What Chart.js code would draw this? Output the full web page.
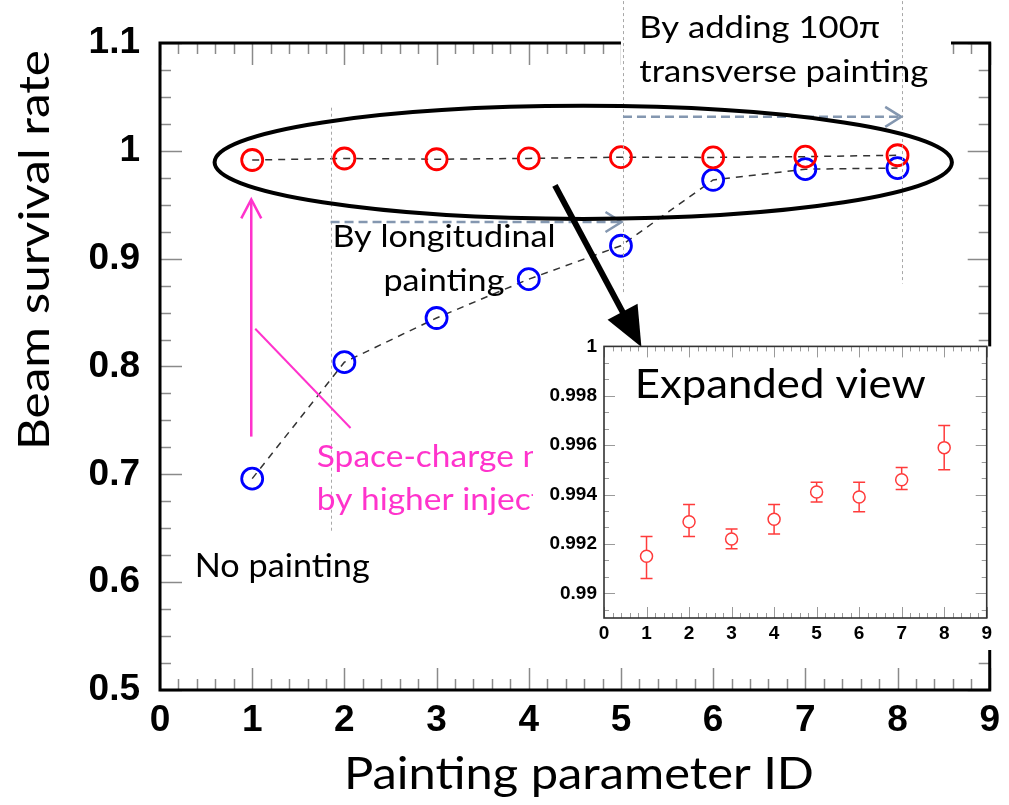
<!DOCTYPE html>
<html>
<head>
<meta charset="utf-8">
<script src="https://cdn.jsdelivr.net/npm/chart.js@4.4.1/dist/chart.umd.min.js"></script>
<style>
  html, body { margin: 0; padding: 0; background: #fff; }
  #wrap { position: relative; width: 1009px; height: 805px; overflow: hidden; background: #fff; }
  #main { position: absolute; left: 0; top: 0; }
  #inset { position: absolute; left: 533px; top: 328px; }
</style>
</head>
<body>
<div id="wrap">
  <canvas id="main" width="1009" height="805"></canvas>
  <canvas id="inset" width="463" height="322"></canvas>
</div>
<script>
// Painting parameter IDs and measured beam survival rates
const paintingIds = [1, 2, 3, 4, 5, 6, 7, 8];
const survivalLongitudinal = [0.696, 0.804, 0.845, 0.881, 0.912, 0.973, 0.983, 0.984];
const survivalTransverse = [0.9915, 0.9929, 0.9922, 0.9930, 0.9941, 0.9939, 0.9946, 0.9959];
const transverseErrHigh = [0.9923, 0.9936, 0.9926, 0.9936, 0.9945, 0.9945, 0.9951, 0.9968];
const transverseErrLow = [0.9906, 0.9923, 0.9918, 0.9924, 0.9937, 0.9933, 0.9942, 0.9950];

// Axis tick values
const mainXTicks = [0, 1, 2, 3, 4, 5, 6, 7, 8, 9];
const mainYTicks = [0.5, 0.6, 0.7, 0.8, 0.9, 1.0, 1.1];
const insetXTicks = [0, 1, 2, 3, 4, 5, 6, 7, 8, 9];
const insetYTicks = [0.99, 0.992, 0.994, 0.996, 0.998, 1.0];

const TEXT_FONT = 'Lato, "Open Sans", sans-serif';
const TICK_FONT = '"Liberation Sans", Arial, sans-serif';

// horizontal squeeze so a line of text at a given size spans the wanted width
const measureCtx = document.createElement('canvas').getContext('2d');
function squeeze(text, size, width) {
  measureCtx.font = `${size}px ${TEXT_FONT}`;
  return width / measureCtx.measureText(text).width;
}
function drawText(ctx, text, x, y, size, sx, align, color) {
  ctx.save();
  ctx.font = `${size}px ${TEXT_FONT}`;
  ctx.fillStyle = color || '#000';
  ctx.textAlign = align;
  ctx.textBaseline = 'middle';
  ctx.translate(x, y);
  ctx.scale(sx, 1);
  ctx.fillText(text, 0, 0);
  ctx.restore();
}
const xTitleSx = squeeze('Painting parameter ID', 45, 470);
const yTitleSx = squeeze('Beam survival rate', 43, 400);
const longSx = squeeze('By longitudinal', 31, 223);
const transSx = squeeze('transverse painting', 31, 289);
const noPaintSx = squeeze('No painting', 32, 175);
const spaceSx = squeeze('Space-charge', 31, 197);
const expandedSx = squeeze('Expanded view', 40, 291);

// inward tick marks on all four sides, with minor subdivisions
function tickValues(ticks, div, min, max) {
  const step = (ticks[1] - ticks[0]) / div;
  let v = ticks[0];
  while (v - step >= min - 1e-9) v -= step;
  const out = [];
  for (; v <= max + 1e-9; v += step) {
    const major = ticks.some(t => Math.abs(t - v) < step * 0.01);
    out.push({ v, major });
  }
  return out;
}
function drawFrame(chart, o) {
  const { ctx, chartArea: a, scales: { x, y } } = chart;
  ctx.save();
  ctx.strokeStyle = o.tickColor;
  ctx.lineWidth = o.tickWidth;
  ctx.beginPath();
  tickValues(o.xTicks, o.xDiv, x.min, x.max).forEach(t => {
    const p = Math.round(x.getPixelForValue(t.v)) + 0.5;
    const len = t.major ? o.major : o.minor;
    ctx.moveTo(p, a.bottom); ctx.lineTo(p, a.bottom - len);
    ctx.moveTo(p, a.top); ctx.lineTo(p, a.top + len);
  });
  tickValues(o.yTicks, o.yDiv, y.min, y.max).forEach(t => {
    const p = Math.round(y.getPixelForValue(t.v)) + 0.5;
    const len = t.major ? o.major : o.minor;
    ctx.moveTo(a.left, p); ctx.lineTo(a.left + len, p);
    ctx.moveTo(a.right, p); ctx.lineTo(a.right - len, p);
  });
  ctx.stroke();
  ctx.strokeStyle = o.frameColor;
  ctx.lineWidth = o.frameWidth;
  ctx.strokeRect(a.left, a.top, a.right - a.left, a.bottom - a.top);
  ctx.restore();
}

function arrowHead(ctx, x0, y0, x1, y1, len, half, filled) {
  const ang = Math.atan2(y1 - y0, x1 - x0);
  const ux = Math.cos(ang), uy = Math.sin(ang);
  const bx = x1 - len * ux, by = y1 - len * uy;
  ctx.beginPath();
  ctx.moveTo(bx - half * uy, by + half * ux);
  ctx.lineTo(x1, y1);
  ctx.lineTo(bx + half * uy, by - half * ux);
  if (filled) { ctx.closePath(); ctx.fill(); } else { ctx.stroke(); }
}

// annotations on the main panel
const mainDecor = {
  id: 'mainDecor',
  beforeDatasetsDraw(chart) {
    drawFrame(chart, {
      xTicks: mainXTicks, yTicks: mainYTicks, xDiv: 5, yDiv: 4,
      major: 22, minor: 11, tickColor: '#8a8a8a', tickWidth: 1.5,
      frameColor: '#000', frameWidth: 3
    });
  },
  afterDatasetsDraw(chart) {
    const { ctx, scales: { x, y } } = chart;
    const X = v => x.getPixelForValue(v);
    const Y = v => y.getPixelForValue(v);
    ctx.save();

    // white box behind the transverse painting note
    ctx.fillStyle = '#fff';
    ctx.fillRect(X(5.0), 0, X(8.58) - X(5.0), Y(1.051));

    // section boundaries
    ctx.strokeStyle = '#a8a8a8';
    ctx.lineWidth = 1;
    ctx.setLineDash([3, 3]);
    [[1.85, 1.040, 0.647], [5.022, 1.15, 0.869], [8.053, 1.15, 0.877]].forEach(([vx, y0, y1]) => {
      ctx.beginPath();
      ctx.moveTo(Math.round(X(vx)) + 0.5, Y(y0));
      ctx.lineTo(Math.round(X(vx)) + 0.5, Y(y1));
      ctx.stroke();
    });

    // dashed range arrows
    ctx.strokeStyle = '#8497b0';
    ctx.lineWidth = 2.5;
    [[1.85, 5.006, 0.934], [5.022, 8.04, 1.0315]].forEach(([x0, x1, vy]) => {
      ctx.setLineDash([9, 5]);
      ctx.beginPath();
      ctx.moveTo(X(x0), Y(vy));
      ctx.lineTo(X(x1) - 2, Y(vy));
      ctx.stroke();
      ctx.setLineDash([]);
      arrowHead(ctx, X(x0), Y(vy), X(x1), Y(vy), 16, 10, false);
    });
    ctx.setLineDash([]);

    // ellipse around the transverse painting points
    const ex0 = X(0.592), ex1 = X(8.59), ey0 = Y(1.0417), ey1 = Y(0.9369);
    ctx.strokeStyle = '#000';
    ctx.lineWidth = 4;
    ctx.beginPath();
    ctx.ellipse((ex0 + ex1) / 2, (ey0 + ey1) / 2, (ex1 - ex0) / 2, (ey1 - ey0) / 2, 0, 0, Math.PI * 2);
    ctx.stroke();

    // arrow towards the expanded view
    const ax0 = X(4.284), ay0 = Y(0.968), ax1 = X(5.222), ay1 = Y(0.818);
    const ang = Math.atan2(ay1 - ay0, ax1 - ax0);
    ctx.lineWidth = 6;
    ctx.beginPath();
    ctx.moveTo(ax0, ay0);
    ctx.lineTo(ax1 - 36 * Math.cos(ang), ay1 - 36 * Math.sin(ang));
    ctx.stroke();
    ctx.fillStyle = '#000';
    arrowHead(ctx, ax0, ay0, ax1, ay1, 40, 17, true);

    // space-charge arrow
    ctx.strokeStyle = '#ff33cc';
    ctx.lineWidth = 2.5;
    ctx.beginPath();
    ctx.moveTo(X(0.99), Y(0.735));
    ctx.lineTo(X(0.99), Y(0.955) + 1);
    ctx.stroke();
    arrowHead(ctx, X(0.99), Y(0.735), X(0.99), Y(0.955), 19, 10, false);
    ctx.lineWidth = 2;
    ctx.beginPath();
    ctx.moveTo(X(1.033), Y(0.835));
    ctx.lineTo(X(2.067), Y(0.743));
    ctx.stroke();
    ctx.restore();

    // notes
    drawText(ctx, 'By longitudinal', X(3.08), Y(0.920), 31, longSx, 'center');
    drawText(ctx, 'painting', X(3.08), Y(0.879), 31, longSx, 'center');
    drawText(ctx, 'By adding 100\u03c0', X(5.199), Y(1.114), 31, transSx, 'left');
    drawText(ctx, 'transverse painting', X(5.199), Y(1.073), 31, transSx, 'left');
    drawText(ctx, 'No painting', X(0.377), Y(0.614), 32, noPaintSx, 'left');
    drawText(ctx, 'Space-charge mitigation', X(1.701), Y(0.716), 31, spaceSx, 'left', '#ff33cc');
    drawText(ctx, 'by higher injection energy', X(1.701), Y(0.676), 31, spaceSx, 'left', '#ff33cc');
  },
  afterDraw(chart) {
    const { ctx, scales: { x, y } } = chart;
    // axis titles
    drawText(ctx, 'Painting parameter ID', x.getPixelForValue(4.545), 774, 45, xTitleSx, 'center');
    ctx.save();
    ctx.translate(35, y.getPixelForValue(0.908));
    ctx.rotate(-Math.PI / 2);
    drawText(ctx, 'Beam survival rate', 0, 0, 43, yTitleSx, 'center');
    ctx.restore();
  }
};

const toPoints = vals => paintingIds.map((id, i) => ({ x: id, y: vals[i] }));

new Chart(document.getElementById('main'), {
  type: 'line',
  data: {
    datasets: [
      {
        label: 'Longitudinal + 100\u03c0 transverse painting',
        data: toPoints(survivalTransverse),
        order: 0,
        borderColor: '#333',
        borderWidth: 1.5,
        borderDash: [7, 6],
        tension: 0,
        fill: false,
        pointRadius: 10.5,
        pointHoverRadius: 10.5,
        pointBorderWidth: 2.8,
        pointBorderColor: '#ff0000',
        pointBackgroundColor: 'rgba(0,0,0,0)'
      },
      {
        label: 'Longitudinal painting',
        data: toPoints(survivalLongitudinal),
        order: 1,
        borderColor: '#333',
        borderWidth: 1.5,
        borderDash: [7, 6],
        tension: 0,
        fill: false,
        pointRadius: 10.5,
        pointHoverRadius: 10.5,
        pointBorderWidth: 2.8,
        pointBorderColor: '#0000ff',
        pointBackgroundColor: 'rgba(0,0,0,0)'
      }
    ]
  },
  options: {
    responsive: false,
    animation: false,
    events: [],
    layout: { padding: { top: 43, right: 11, left: 0, bottom: 0 } },
    plugins: { legend: { display: false }, tooltip: { enabled: false } },
    scales: {
      x: {
        type: 'linear', min: 0, max: 9,
        afterBuildTicks: s => { s.ticks = mainXTicks.map(v => ({ value: v })); },
        afterFit: s => { s.height = 115; },
        grid: { display: false, drawTicks: false, tickLength: 0 },
        border: { display: false },
        ticks: {
          font: { family: TICK_FONT, weight: 'bold', size: 37 },
          color: '#000', padding: 9, maxRotation: 0, autoSkip: false,
          callback: v => String(v)
        }
      },
      y: {
        type: 'linear', min: 0.5, max: 1.1,
        afterBuildTicks: s => { s.ticks = mainYTicks.map(v => ({ value: v })); },
        afterFit: s => { s.width = 160; },
        grid: { display: false, drawTicks: false, tickLength: 0 },
        border: { display: false },
        ticks: {
          font: { family: TICK_FONT, weight: 'bold', size: 37 },
          color: '#000', padding: 20, autoSkip: false,
          callback: v => String(+(+v).toFixed(2))
        }
      }
    }
  },
  plugins: [mainDecor]
});

// expanded view of the transverse painting results
const insetDecor = {
  id: 'insetDecor',
  beforeDraw(chart) {
    const { ctx, chartArea: a, width, height } = chart;
    ctx.save();
    ctx.fillStyle = '#fff';
    ctx.fillRect(0, a.top - 10, a.left, height - a.top + 10);
    ctx.fillRect(a.left, a.top, width - a.left, height - a.top);
    ctx.restore();
  },
  beforeDatasetsDraw(chart) {
    drawFrame(chart, {
      xTicks: insetXTicks, yTicks: insetYTicks, xDiv: 5, yDiv: 3,
      major: 11, minor: 5, tickColor: '#9a9a9a', tickWidth: 1,
      frameColor: '#333', frameWidth: 1.6
    });
  },
  afterDatasetsDraw(chart) {
    const { ctx, scales: { x, y } } = chart;
    const r = 6, cap = 6;
    ctx.save();
    ctx.strokeStyle = '#ff3b3b';
    ctx.lineWidth = 1.5;
    ctx.beginPath();
    paintingIds.forEach((id, i) => {
      const px = x.getPixelForValue(id);
      const pc = y.getPixelForValue(survivalTransverse[i]);
      const ph = y.getPixelForValue(transverseErrHigh[i]);
      const pl = y.getPixelForValue(transverseErrLow[i]);
      ctx.moveTo(px, ph); ctx.lineTo(px, pc - r);
      ctx.moveTo(px, pc + r); ctx.lineTo(px, pl);
      ctx.moveTo(px - cap, ph); ctx.lineTo(px + cap, ph);
      ctx.moveTo(px - cap, pl); ctx.lineTo(px + cap, pl);
    });
    ctx.stroke();
    ctx.restore();
    drawText(ctx, 'Expanded view', x.getPixelForValue(0.723), y.getPixelForValue(0.99843), 40, expandedSx, 'left');
  }
};

new Chart(document.getElementById('inset'), {
  type: 'line',
  data: {
    datasets: [{
      label: 'Longitudinal + 100\u03c0 transverse painting',
      data: toPoints(survivalTransverse),
      showLine: false,
      pointRadius: 6,
      pointHoverRadius: 6,
      pointBorderWidth: 1.5,
      pointBorderColor: '#ff3b3b',
      pointBackgroundColor: 'rgba(0,0,0,0)'
    }]
  },
  options: {
    responsive: false,
    animation: false,
    events: [],
    layout: { padding: { top: 18, right: 6, left: 0, bottom: 0 } },
    plugins: { legend: { display: false }, tooltip: { enabled: false } },
    scales: {
      x: {
        type: 'linear', min: 0, max: 9,
        afterBuildTicks: s => { s.ticks = insetXTicks.map(v => ({ value: v })); },
        afterFit: s => { s.height = 32; },
        grid: { display: false, drawTicks: false, tickLength: 0 },
        border: { display: false },
        ticks: {
          font: { family: TICK_FONT, weight: 'bold', size: 19 },
          color: '#000', padding: 4, maxRotation: 0, autoSkip: false,
          callback: v => String(v)
        }
      },
      y: {
        type: 'linear', min: 0.989, max: 1.0,
        afterBuildTicks: s => { s.ticks = insetYTicks.map(v => ({ value: v })); },
        afterFit: s => { s.width = 71; },
        grid: { display: false, drawTicks: false, tickLength: 0 },
        border: { display: false },
        ticks: {
          font: { family: TICK_FONT, weight: 'bold', size: 19 },
          color: '#000', padding: 7, autoSkip: false,
          callback: v => String(+(+v).toFixed(3))
        }
      }
    }
  },
  plugins: [insetDecor]
});
</script>
</body>
</html>
